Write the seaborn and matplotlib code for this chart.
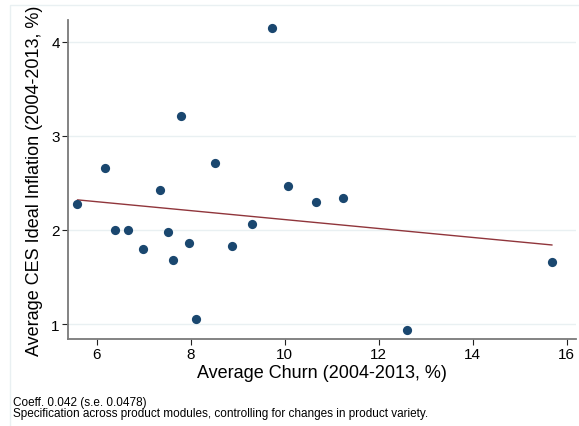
import matplotlib
matplotlib.use("Agg")
import matplotlib.pyplot as plt
import seaborn as sns
import pandas as pd
from matplotlib.patches import Rectangle

# Average churn and CES ideal inflation by product module, 2004-2013 (%)
churn = [5.59, 6.18, 6.39, 6.67, 6.99, 7.35, 7.52, 7.63, 7.79, 7.96,
         8.11, 8.52, 8.87, 9.30, 9.72, 10.06, 10.67, 11.25, 12.60, 15.69]
inflation = [2.28, 2.66, 2.00, 2.00, 1.80, 2.42, 1.98, 1.68, 3.21, 1.86,
             1.05, 2.71, 1.83, 2.06, 4.14, 2.47, 2.30, 2.34, 0.94, 1.66]
x_ticks = [6, 8, 10, 12, 14, 16]
y_ticks = [1, 2, 3, 4]
footnotes = ["Coeff. 0.042 (s.e. 0.0478)",
             "Specification across product modules, controlling for changes in product variety."]

df = pd.DataFrame({"churn": churn, "inflation": inflation})

sns.set_theme(style="white")
plt.rcParams["font.family"] = ["Liberation Sans", "DejaVu Sans"]
plt.rcParams["text.color"] = "black"
plt.rcParams["axes.labelcolor"] = "black"
plt.rcParams["xtick.color"] = "black"
plt.rcParams["ytick.color"] = "black"

fig = plt.figure(figsize=(5.79, 4.27), dpi=100)
ax = fig.add_axes([68 / 579, 1 - 340 / 427, (576 - 68) / 579, (340 - 21) / 427])

navy = "#1a476f"
maroon = "#90353b"
grid_c = "#e9f0f2"

for yt in y_ticks:
    ax.axhline(yt, color=grid_c, lw=1.0, zorder=0)

sns.scatterplot(data=df, x="churn", y="inflation", ax=ax, color=navy,
                s=44, linewidth=0, zorder=3)
sns.regplot(data=df, x="churn", y="inflation", ax=ax, scatter=False, ci=None,
            truncate=True, line_kws={"color": maroon, "lw": 1.0, "zorder": 2})

ax.set_xlim(5.389, 16.198)
ax.set_ylim(0.841, 4.23)
ax.set_xticks(x_ticks)
ax.set_yticks(y_ticks)
ax.tick_params(axis="both", which="both", direction="out", length=4, width=0.8,
               color="#222222", labelcolor="black", labelsize=11, pad=2,
               left=True, bottom=True)
for side in ["top", "right"]:
    ax.spines[side].set_visible(False)
for side in ["left", "bottom"]:
    ax.spines[side].set_color("#7a7a7a")
    ax.spines[side].set_linewidth(1.3)

ax.set_xlabel("Average Churn (2004-2013, %)", fontsize=13, labelpad=2, color="black")
ax.set_ylabel("Average CES Ideal Inflation (2004-2013, %)", fontsize=13, labelpad=6,
              color="black")

# light outer frame of the graph region
fig.patches.append(Rectangle((10 / 579, -0.01), 1.0, 1 - 6 / 427 + 0.01,
                             transform=fig.transFigure, fill=False,
                             edgecolor=grid_c, lw=1.0))

fig.text(13 / 579, 1 - 403 / 427, footnotes[0], fontsize=8.5, va="center", ha="left")
fig.text(13 / 579, 1 - 414 / 427, footnotes[1], fontsize=8.5, va="center", ha="left")

fig.savefig("out.png", dpi=100)
